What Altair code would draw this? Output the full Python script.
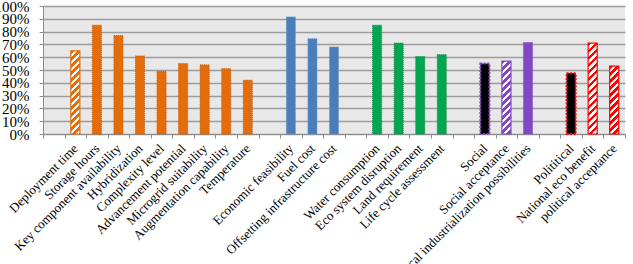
import altair as alt
import pandas as pd

# x slots (blank strings are the gaps between groups)
slots = [" ", "Deployment time", "Storage hours", "Key component availability",
         "Hybridization", "Complexity level", "Advancement potential",
         "Microgrid suitability", "Augmentation capability", "Temperature", "  ",
         "Economic feasibility", "Fuel cost", "Offsetting infrastructure cost", "   ",
         "Water consumption", "Eco system disruption", "Land requirement",
         "Life cycle assessment", "    ",
         "Social", "Social acceptance", "Local industrialization possibilities", "     ",
         "Polititical", "National eco benefit", "political acceptance"]

categories = ["Deployment time", "Storage hours", "Key component availability",
              "Hybridization", "Complexity level", "Advancement potential",
              "Microgrid suitability", "Augmentation capability", "Temperature",
              "Economic feasibility", "Fuel cost", "Offsetting infrastructure cost",
              "Water consumption", "Eco system disruption", "Land requirement",
              "Life cycle assessment",
              "Social", "Social acceptance", "Local industrialization possibilities",
              "Polititical", "National eco benefit", "political acceptance"]
values = [0.65, 0.85, 0.77, 0.61, 0.49, 0.55, 0.54, 0.51, 0.42,
          0.915, 0.745, 0.68,
          0.85, 0.71, 0.605, 0.62,
          0.55, 0.57, 0.715,
          0.475, 0.71, 0.53]
kinds = ["hatch"] + ["solid"] * 8 + ["solid"] * 3 + ["solid"] * 4 + \
        ["black", "hatch", "solid"] + ["black", "hatch", "hatch"]
colors = ["#E46C0A"] * 9 + ["#4A7EBB"] * 3 + ["#00A650"] * 4 + ["#8447C4"] * 3 + ["#FF0000"] * 3
edges = ["#E46C0A"] + ["#C85A05"] * 8 + ["#6C98CC"] * 3 + ["#1E8A4A"] * 4 + \
        ["#8447C4"] * 3 + ["#FF0000"] * 3
y_ticks = [i / 10 for i in range(11)]

df = pd.DataFrame({"cat": categories, "val": values, "kind": kinds,
                   "color": colors, "edge": edges})

W, H = 582, 128
BAND = 0.42
bar_w = BAND * W / len(slots)

x_enc = alt.X("cat:N", scale=alt.Scale(domain=slots, paddingInner=0, paddingOuter=0),
              axis=alt.Axis(title=None, labelAngle=-45, labelAlign="right",
                            labelBaseline="middle", labelFont="Liberation Serif",
                            labelFontSize=13, labelColor="black", labelPadding=8,
                            labelLimit=500, labelOverlap=False, tickBand="extent",
                            tickColor="#8C8C8C", tickSize=4, domainColor="#8C8C8C",
                            grid=False))
y_enc = alt.Y("val:Q", scale=alt.Scale(domain=[0, 1], nice=False),
              axis=alt.Axis(title=None, values=y_ticks, format=".0%",
                            labelFont="Liberation Serif", labelFontSize=15,
                            labelColor="black", labelPadding=10, tickSize=4,
                            labelOverlap=False,
                            tickColor="#8C8C8C", domainColor="#8C8C8C",
                            grid=True, gridColor="#9C9C9C", gridWidth=1.5))

base = alt.Chart(df)

solid = base.transform_filter(alt.datum.kind == "solid").mark_bar(
    width=alt.RelativeBandSize(BAND), strokeDash=[1, 1], strokeWidth=1
).encode(x=x_enc, y=y_enc,
         fill=alt.Fill("color:N", scale=None),
         stroke=alt.Stroke("edge:N", scale=None))

black = base.transform_filter(alt.datum.kind == "black").mark_bar(
    width=alt.RelativeBandSize(BAND), fill="black", strokeDash=[2, 1.5], strokeWidth=2
).encode(x=x_enc, y=y_enc, stroke=alt.Stroke("edge:N", scale=None))


def hatch_gradient(v, color):
    h = v * H
    w = bar_w
    k = (w + h) / (w * w + h * h)
    period = 7.0 / (w + h)
    stops = []
    t = 0.0
    while t < 1.0:
        a = min(t, 1.0)
        b = min(t + period / 2, 1.0)
        c = min(t + period, 1.0)
        stops += [alt.GradientStop(offset=a, color=color),
                  alt.GradientStop(offset=b, color=color),
                  alt.GradientStop(offset=b, color="white"),
                  alt.GradientStop(offset=c, color="white")]
        t += period
    return alt.LinearGradient(gradient="linear", stops=stops,
                              x1=0, y1=0, x2=w * k, y2=h * k)


layers = [solid, black]
for c, v, kd, col in zip(categories, values, kinds, colors):
    if kd == "hatch":
        layers.append(
            base.transform_filter(alt.datum.cat == c).mark_bar(
                width=alt.RelativeBandSize(BAND), strokeWidth=1.2, stroke=col,
                fill=hatch_gradient(v, col)
            ).encode(x=x_enc, y=y_enc)
        )

chart = alt.layer(*layers).properties(
    width=W, height=H,
    autosize=alt.AutoSizeParams(type="none"),
    padding={"left": 43, "top": 6, "right": 8, "bottom": 130},
    background="white"
).configure_view(fill="#E8E8E8", stroke=None)

chart.save("out.html", embed_options={"renderer": "svg", "actions": False})
